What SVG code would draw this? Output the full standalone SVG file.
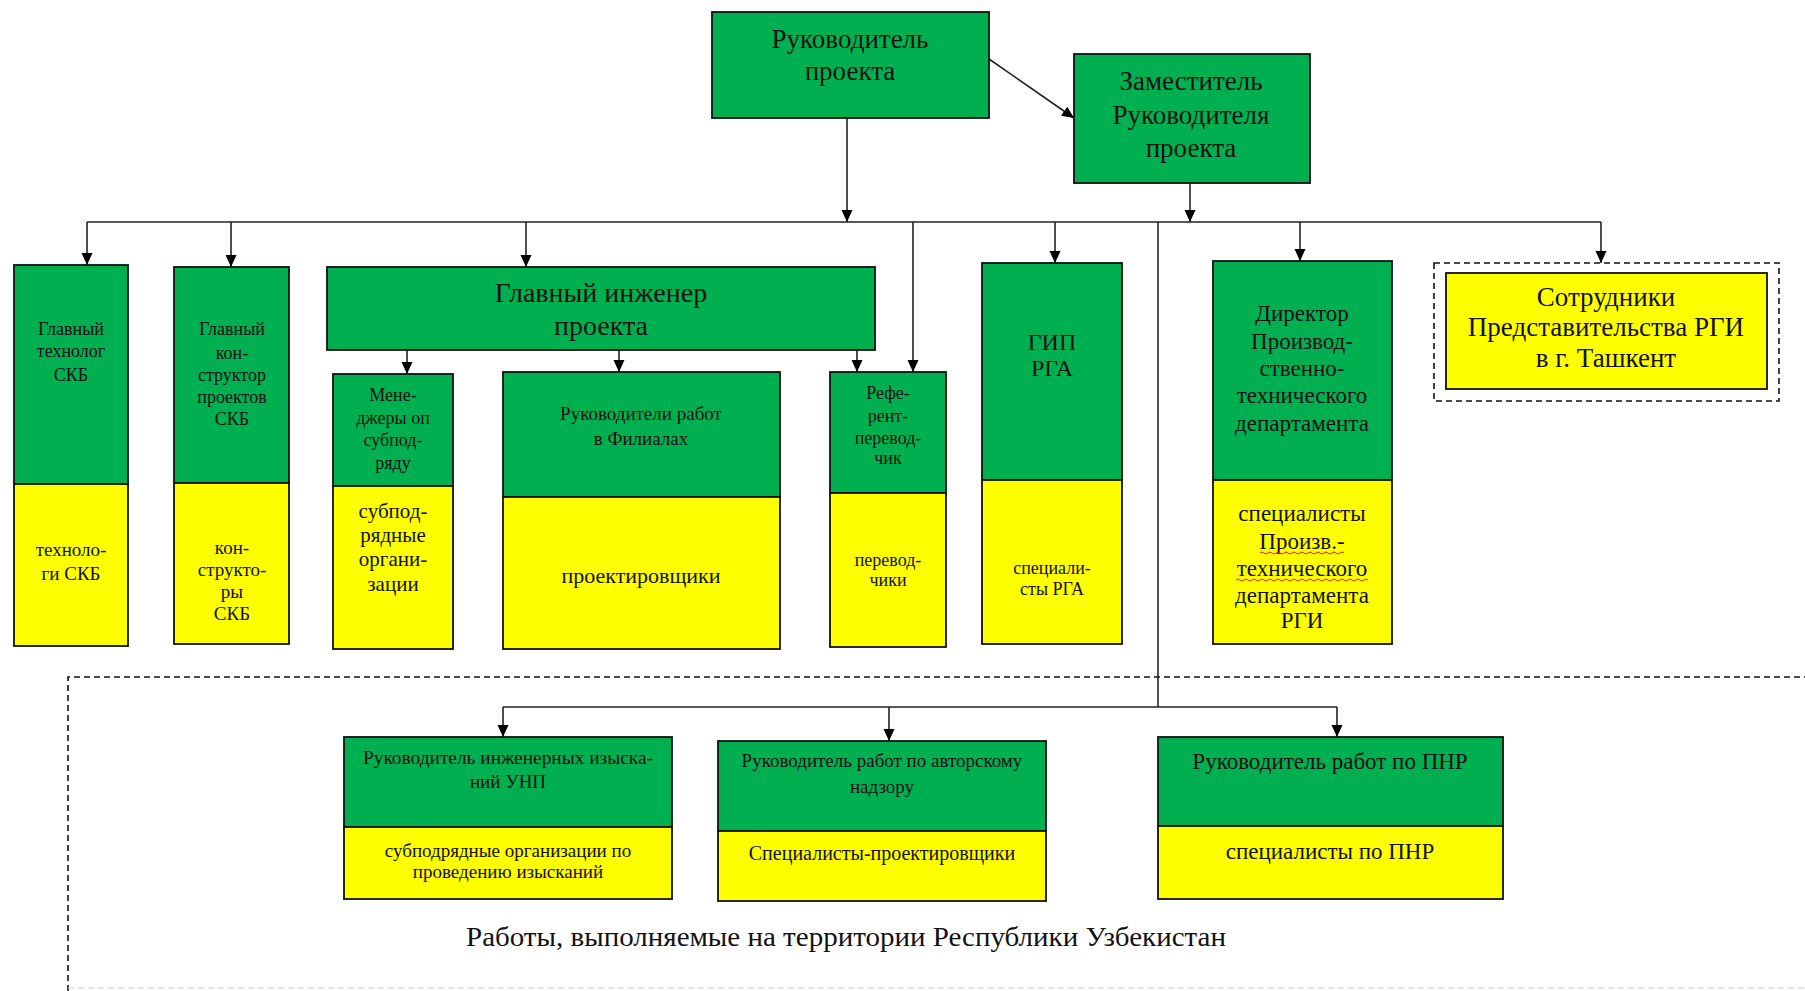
<svg xmlns="http://www.w3.org/2000/svg" width="1805" height="991" viewBox="0 0 1805 991">
<defs>
<marker id="arr" markerUnits="userSpaceOnUse" markerWidth="12" markerHeight="12" refX="12" refY="5.5" orient="auto">
<path d="M0,0 L12,5.5 L0,11 z" fill="#000"/>
</marker>
<style>
.g{fill:#00B050;stroke:#111;stroke-width:1.8}
.y{fill:#FFFF00;stroke:#111;stroke-width:1.8}
.ln{fill:none;stroke:#222;stroke-width:1.6}
.t{font-family:"Liberation Serif","Times New Roman",serif;fill:#111;text-anchor:middle;dominant-baseline:central}
.dash{fill:none;stroke:#111;stroke-width:1.6;stroke-dasharray:6 4}
</style>
</defs>
<rect width="1805" height="991" fill="#fff"/>

<!-- region of works in Uzbekistan -->
<g id="region">
<path class="dash" d="M68,991 L68,677 L1805,677"/>
<path d="M68,988 L1805,988" fill="none" stroke="#ccc" stroke-width="1.2" stroke-dasharray="6 4"/>
<text class="t" x="846" y="937" font-size="27" textLength="760" lengthAdjust="spacingAndGlyphs">Работы, выполняемые на территории Республики Узбекистан</text>
</g>

<g id="connectors">
<line class="ln" x1="989" y1="59" x2="1074" y2="118" marker-end="url(#arr)"/>
<line class="ln" x1="847" y1="118" x2="847" y2="222" marker-end="url(#arr)"/>
<line class="ln" x1="1190" y1="183" x2="1190" y2="222" marker-end="url(#arr)"/>
<line class="ln" x1="87" y1="222" x2="1601" y2="222"/>
<line class="ln" x1="87" y1="222" x2="87" y2="265" marker-end="url(#arr)"/>
<line class="ln" x1="231" y1="222" x2="231" y2="267" marker-end="url(#arr)"/>
<line class="ln" x1="526" y1="222" x2="526" y2="267" marker-end="url(#arr)"/>
<line class="ln" x1="913" y1="222" x2="913" y2="372" marker-end="url(#arr)"/>
<line class="ln" x1="1055" y1="222" x2="1055" y2="263" marker-end="url(#arr)"/>
<line class="ln" x1="1300" y1="222" x2="1300" y2="261" marker-end="url(#arr)"/>
<line class="ln" x1="1601" y1="222" x2="1601" y2="263" marker-end="url(#arr)"/>
<line class="ln" x1="407" y1="350" x2="407" y2="374" marker-end="url(#arr)"/>
<line class="ln" x1="619" y1="350" x2="619" y2="372" marker-end="url(#arr)"/>
<line class="ln" x1="857" y1="350" x2="857" y2="372" marker-end="url(#arr)"/>
<line class="ln" x1="1158" y1="222" x2="1158" y2="707"/>
<line class="ln" x1="503" y1="707" x2="1337" y2="707"/>
<line class="ln" x1="503" y1="707" x2="503" y2="737" marker-end="url(#arr)"/>
<line class="ln" x1="889" y1="707" x2="889" y2="741" marker-end="url(#arr)"/>
<line class="ln" x1="1337" y1="707" x2="1337" y2="737" marker-end="url(#arr)"/>
</g>

<g id="head">
<rect class="g" x="712" y="12" width="277" height="106"/>
<text class="t" x="850" y="39" font-size="27">Руководитель</text>
<text class="t" x="850" y="71" font-size="27">проекта</text>
</g>

<g id="deputy">
<rect class="g" x="1074" y="54" width="236" height="129"/>
<text class="t" x="1191" y="81" font-size="27">Заместитель</text>
<text class="t" x="1191" y="115" font-size="27">Руководителя</text>
<text class="t" x="1191" y="148" font-size="27">проекта</text>
</g>

<g id="technolog">
<rect class="g" x="14" y="265" width="114" height="219"/>
<rect class="y" x="14" y="484" width="114" height="162"/>
<text class="t" x="71" y="329" font-size="18">Главный</text>
<text class="t" x="71" y="351" font-size="18">технолог</text>
<text class="t" x="71" y="375" font-size="18">СКБ</text>
<text class="t" x="71" y="549" font-size="19">техноло-</text>
<text class="t" x="71" y="573" font-size="19">ги СКБ</text>
</g>

<g id="konstruktor">
<rect class="g" x="174" y="267" width="115" height="216"/>
<rect class="y" x="174" y="483" width="115" height="161"/>
<text class="t" x="232" y="329" font-size="18">Главный</text>
<text class="t" x="232" y="353" font-size="18">кон-</text>
<text class="t" x="232" y="375" font-size="18">структор</text>
<text class="t" x="232" y="397" font-size="18">проектов</text>
<text class="t" x="232" y="419" font-size="18">СКБ</text>
<text class="t" x="232" y="547" font-size="19">кон-</text>
<text class="t" x="232" y="569" font-size="19">структо-</text>
<text class="t" x="232" y="591" font-size="19">ры</text>
<text class="t" x="232" y="613" font-size="19">СКБ</text>
</g>

<g id="chief-engineer">
<rect class="g" x="327" y="267" width="548" height="83"/>
<text class="t" x="601" y="292" font-size="28">Главный инженер</text>
<text class="t" x="601" y="325" font-size="28">проекта</text>
</g>

<g id="managers">
<rect class="g" x="333" y="374" width="120" height="112"/>
<rect class="y" x="333" y="486" width="120" height="163"/>
<text class="t" x="393" y="395" font-size="18">Мене-</text>
<text class="t" x="393" y="418" font-size="18">джеры оп</text>
<text class="t" x="393" y="440" font-size="18">субпод-</text>
<text class="t" x="393" y="463" font-size="18">ряду</text>
<text class="t" x="393" y="511" font-size="21">субпод-</text>
<text class="t" x="393" y="535" font-size="21">рядные</text>
<text class="t" x="393" y="559" font-size="21">органи-</text>
<text class="t" x="393" y="584" font-size="21">зации</text>
</g>

<g id="branches">
<rect class="g" x="503" y="372" width="277" height="125"/>
<rect class="y" x="503" y="497" width="277" height="152"/>
<text class="t" x="641" y="413" font-size="19">Руководители работ</text>
<text class="t" x="641" y="438" font-size="19">в Филиалах</text>
<text class="t" x="641" y="575" font-size="22">проектировщики</text>
</g>

<g id="referent">
<rect class="g" x="830" y="372" width="116" height="121"/>
<rect class="y" x="830" y="493" width="116" height="154"/>
<text class="t" x="888" y="393" font-size="18">Рефе-</text>
<text class="t" x="888" y="416" font-size="18">рент-</text>
<text class="t" x="888" y="438" font-size="18">перевод-</text>
<text class="t" x="888" y="458" font-size="18">чик</text>
<text class="t" x="888" y="560" font-size="18">перевод-</text>
<text class="t" x="888" y="580" font-size="18">чики</text>
</g>

<g id="gip-rga">
<rect class="g" x="982" y="263" width="140" height="217"/>
<rect class="y" x="982" y="480" width="140" height="164"/>
<text class="t" x="1052" y="342" font-size="24">ГИП</text>
<text class="t" x="1052" y="368" font-size="24">РГА</text>
<text class="t" x="1052" y="568" font-size="18">специали-</text>
<text class="t" x="1052" y="589" font-size="18">сты РГА</text>
</g>

<g id="director">
<rect class="g" x="1213" y="261" width="179" height="219"/>
<rect class="y" x="1213" y="480" width="179" height="164"/>
<text class="t" x="1302" y="313" font-size="23">Директор</text>
<text class="t" x="1302" y="341" font-size="23">Производ-</text>
<text class="t" x="1302" y="368" font-size="23">ственно-</text>
<text class="t" x="1302" y="395" font-size="23">технического</text>
<text class="t" x="1302" y="423" font-size="23">департамента</text>
<text class="t" x="1302" y="513" font-size="23">специалисты</text>
<text class="t" x="1302" y="541" font-size="23">Произв.-</text>
<text class="t" x="1302" y="568" font-size="23">технического</text>
<text class="t" x="1302" y="595" font-size="23">департамента</text>
<text class="t" x="1302" y="620" font-size="23">РГИ</text>
<path d="M1260,553 q2,-2 4,0 t4,0 t4,0 t4,0 t4,0 t4,0 t4,0 t4,0 t4,0 t4,0 t4,0 t4,0 t4,0 t4,0 t4,0 t4,0 t4,0 t4,0 t4,0 t4,0 t4,0" fill="none" stroke="#d22" stroke-width="1"/>
<path d="M1236,580 q2,-2 4,0 t4,0 t4,0 t4,0 t4,0 t4,0 t4,0 t4,0 t4,0 t4,0 t4,0 t4,0 t4,0 t4,0 t4,0 t4,0 t4,0 t4,0 t4,0 t4,0 t4,0 t4,0 t4,0 t4,0 t4,0 t4,0 t4,0 t4,0 t4,0 t4,0 t4,0 t4,0 t4,0" fill="none" stroke="#d22" stroke-width="1"/>
</g>

<g id="tashkent">
<rect class="dash" x="1434" y="263" width="345" height="138"/>
<rect class="y" x="1446" y="273" width="321" height="116"/>
<text class="t" x="1606" y="297" font-size="27">Сотрудники</text>
<text class="t" x="1606" y="327" font-size="27">Представительства РГИ</text>
<text class="t" x="1606" y="358" font-size="27">в г. Ташкент</text>
</g>

<g id="survey">
<rect class="g" x="344" y="737" width="328" height="90"/>
<rect class="y" x="344" y="827" width="328" height="72"/>
<text class="t" x="508" y="757" font-size="19" textLength="290" lengthAdjust="spacingAndGlyphs">Руководитель инженерных изыска-</text>
<text class="t" x="508" y="781" font-size="19">ний УНП</text>
<text class="t" x="508" y="850" font-size="19">субподрядные организации по</text>
<text class="t" x="508" y="871" font-size="19">проведению изысканий</text>
</g>

<g id="supervision">
<rect class="g" x="718" y="741" width="328" height="90"/>
<rect class="y" x="718" y="831" width="328" height="70"/>
<text class="t" x="882" y="760" font-size="19">Руководитель работ по авторскому</text>
<text class="t" x="882" y="786" font-size="19">надзору</text>
<text class="t" x="882" y="853" font-size="20">Специалисты-проектировщики</text>
</g>

<g id="commissioning">
<rect class="g" x="1158" y="737" width="345" height="89"/>
<rect class="y" x="1158" y="826" width="345" height="73"/>
<text class="t" x="1330" y="761" font-size="23">Руководитель работ по ПНР</text>
<text class="t" x="1330" y="851" font-size="23">специалисты по ПНР</text>
</g>
</svg>
